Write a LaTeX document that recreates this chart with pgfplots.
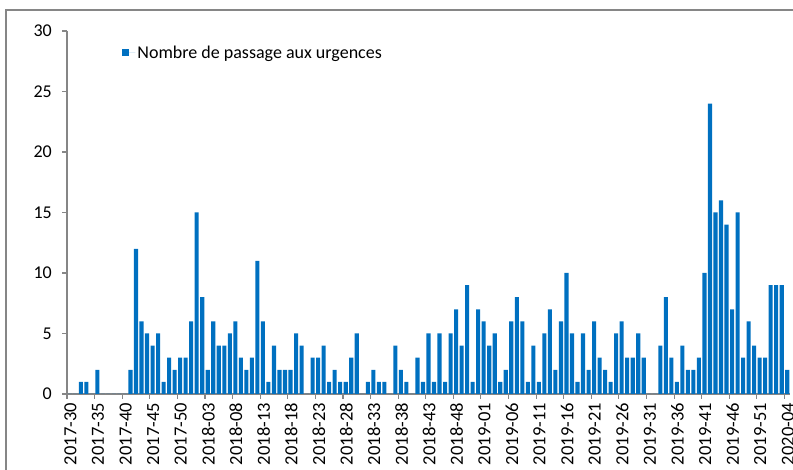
\documentclass[border=0pt]{standalone}
\usepackage{pgfplots}
\pgfplotsset{compat=1.18}
\usepackage{fontspec}
\setmainfont{Carlito}
\definecolor{barblue}{RGB}{0,112,192}
\definecolor{axgray}{RGB}{134,134,134}
\newcommand{\lbl}{\fontsize{18}{21}\selectfont}
\newcommand{\xlbl}{\fontsize{18.5}{21}\selectfont}
\begin{document}
\begin{tikzpicture}[x=1pt,y=1pt]
\path[use as bounding box] (0,0) rectangle (793,470);
\draw[axgray, line width=1.3pt] (6,-5) -- (6,460) -- (800,460);
\begin{axis}[
  at={(67pt,76pt)}, anchor=south west,
  scale only axis, width=723pt, height=363pt,
  xmin=-0.5, xmax=130.5, ymin=0, ymax=30,
  axis x line=bottom, axis y line=left,
  axis line style={axgray, line width=1.1pt, -},
  tick align=outside, major tick length=5pt,
  tick style={axgray, line width=1.1pt},
  ytick={0,5,...,30},
  /pgf/number format/assume math mode=true,
  yticklabel style={font=\lbl, anchor=east, inner sep=0pt, xshift=-10pt},
  xtick={-0.5,4.5,...,129.5},
  xticklabels={2017-30,2017-35,2017-40,2017-45,2017-50,2018-03,2018-08,2018-13,2018-18,2018-23,2018-28,2018-33,2018-38,2018-43,2018-48,2019-01,2019-06,2019-11,2019-16,2019-21,2019-26,2019-31,2019-36,2019-41,2019-46,2019-51,2020-04},
  xticklabel style={font=\xlbl, xshift=3.4pt, yshift=-4pt, rotate=90, anchor=east, inner sep=0pt},
  ybar, bar width=0.74, bar shift=0pt,
  legend style={at={(0.075,0.968)}, anchor=north west, draw=none, fill=none, font=\lbl, inner sep=1pt},
  legend image code/.code={\path (0pt,0pt) -- (13pt,0pt); \fill[barblue] (0pt,-3pt) rectangle (6.5pt,3.5pt);},
  clip=false,
]
\addplot[fill=barblue, draw=none] table[x=i, y=v] {
i v
0 0
1 0
2 1
3 1
4 0
5 2
6 0
7 0
8 0
9 0
10 0
11 2
12 12
13 6
14 5
15 4
16 5
17 1
18 3
19 2
20 3
21 3
22 6
23 15
24 8
25 2
26 6
27 4
28 4
29 5
30 6
31 3
32 2
33 3
34 11
35 6
36 1
37 4
38 2
39 2
40 2
41 5
42 4
43 0
44 3
45 3
46 4
47 1
48 2
49 1
50 1
51 3
52 5
53 0
54 1
55 2
56 1
57 1
58 0
59 4
60 2
61 1
62 0
63 3
64 1
65 5
66 1
67 5
68 1
69 5
70 7
71 4
72 9
73 1
74 7
75 6
76 4
77 5
78 1
79 2
80 6
81 8
82 6
83 1
84 4
85 1
86 5
87 7
88 2
89 6
90 10
91 5
92 1
93 5
94 2
95 6
96 3
97 2
98 1
99 5
100 6
101 3
102 3
103 5
104 3
105 0
106 0
107 4
108 8
109 3
110 1
111 4
112 2
113 2
114 3
115 10
116 24
117 15
118 16
119 14
120 7
121 15
122 3
123 6
124 4
125 3
126 3
127 9
128 9
129 9
130 2
};
\addlegendentry{Nombre de passage aux urgences}
\end{axis}
\end{tikzpicture}
\end{document}
